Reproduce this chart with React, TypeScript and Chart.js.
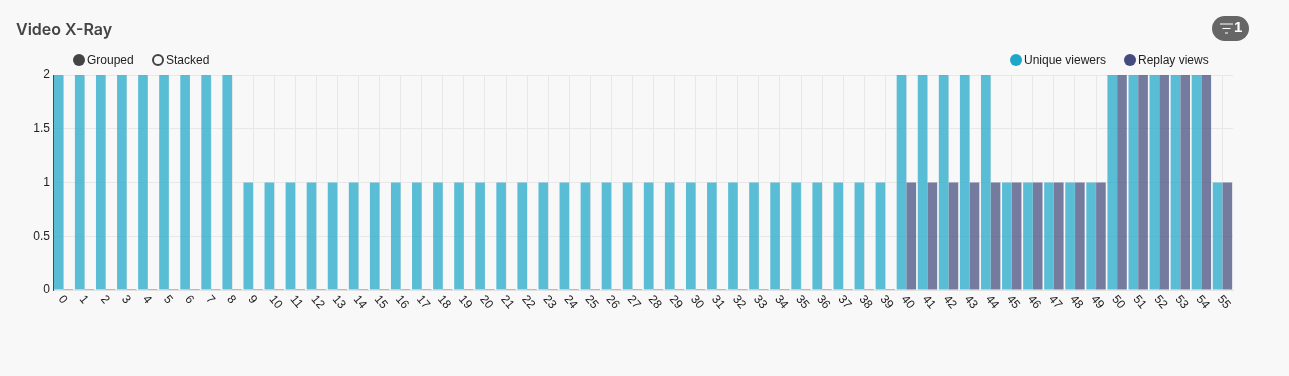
import React, { useEffect, useRef } from "react";
import { Chart, registerables } from "chart.js";

Chart.register(...registerables);

const categories = Array.from({ length: 56 }, (_, i) => String(i));
const uniqueViewers = [
  2, 2, 2, 2, 2, 2, 2, 2, 2,
  1, 1, 1, 1, 1, 1, 1, 1, 1, 1, 1, 1, 1, 1, 1, 1, 1, 1, 1, 1, 1, 1, 1, 1, 1, 1, 1, 1, 1, 1, 1,
  2, 2, 2, 2, 2,
  1, 1, 1, 1, 1,
  2, 2, 2, 2, 2,
  1,
];
const replayViews = [
  0, 0, 0, 0, 0, 0, 0, 0, 0,
  0, 0, 0, 0, 0, 0, 0, 0, 0, 0, 0, 0, 0, 0, 0, 0, 0, 0, 0, 0, 0, 0, 0, 0, 0, 0, 0, 0, 0, 0, 0,
  1, 1, 1, 1, 1,
  1, 1, 1, 1, 1,
  2, 2, 2, 2, 2,
  1,
];
const yTicks = [0, 0.5, 1, 1.5, 2];
const seriesNames = ["Unique viewers", "Replay views"];
const legendColors = ["#1ea7c9", "#444b7e"];
const barColors = ["rgba(30,167,201,0.73)", "rgba(68,75,126,0.73)"];

const sans = "'Liberation Sans', Arial, sans-serif";
const LABEL_ANGLE = (50 * Math.PI) / 180;

// Chart.js only slants tick labels anticlockwise; turn its own label items clockwise.
const clockwiseLabels = {
  id: "clockwiseLabels",
  beforeDraw(chart: any) {
    const scale = chart.scales.x;
    scale.getLabelItems(chart.chartArea).forEach((item: any, i: number) => {
      const tickX = scale.getPixelForTick(i);
      item.options.rotation = LABEL_ANGLE;
      item.options.textAlign = "left";
      item.options.textBaseline = "middle";
      item.options.translation = [tickX - 3, chart.chartArea.bottom + 7];
      item.textOffset = 0;
    });
  },
};

const legendItemStyle = (left: number, color: string): React.CSSProperties => ({
  position: "absolute",
  left,
  top: 54,
  width: 12,
  height: 12,
  borderRadius: 6,
  background: color,
});

export default function App() {
  const ref = useRef<HTMLCanvasElement>(null);

  useEffect(() => {
    document.body.style.margin = "0";
    document.body.style.background = "#f8f8f8";
    const chart = new Chart(ref.current!, {
      type: "bar",
      plugins: [clockwiseLabels],
      data: {
        labels: categories,
        datasets: [
          { label: seriesNames[0], data: uniqueViewers, backgroundColor: barColors[0], minBarLength: 1 },
          { label: seriesNames[1], data: replayViews, backgroundColor: barColors[1], minBarLength: 1 },
        ],
      },
      options: {
        animation: false,
        responsive: false,
        layout: { padding: { left: 0, right: 56, top: 75, bottom: 0 } },
        datasets: { bar: { categoryPercentage: 0.93, barPercentage: 0.98 } },
        plugins: {
          title: { display: false },
          tooltip: { enabled: false },
          legend: { display: false },
        },
        scales: {
          x: {
            offset: true,
            afterFit: (scale: any) => {
              scale.height = 86;
            },
            grid: { offset: false, color: "#e8e8e8", drawTicks: false },
            border: { color: "#e2e2e2" },
            ticks: {
              autoSkip: false,
              maxRotation: 50,
              minRotation: 50,
              padding: 6,
              color: "#222",
              font: { family: sans, size: 12 },
            },
          },
          y: {
            min: 0,
            max: 2,
            afterBuildTicks: (scale: any) => {
              scale.ticks = yTicks.map((value) => ({ value }));
            },
            afterFit: (scale: any) => {
              scale.width = 53;
            },
            grid: { color: "#e8e8e8", drawTicks: false },
            border: { color: "#444" },
            ticks: {
              padding: 3,
              color: "#222",
              font: { family: sans, size: 12 },
              callback: (value: any) => String(value),
            },
          },
        },
      },
    } as any);
    return () => chart.destroy();
  }, []);

  return (
    <div style={{ position: "relative", width: 1289, height: 376, background: "#f8f8f8", overflow: "hidden" }}>
      <canvas ref={ref} width={1289} height={376} style={{ position: "absolute", left: 0, top: 0, display: "block" }} />

      <div style={{ position: "absolute", left: 16, top: 19, font: `600 16px Inter, sans-serif`, color: "#444" }}>
        Video X-Ray
      </div>

      <div
        style={{
          position: "absolute",
          left: 1212,
          top: 16,
          width: 37,
          height: 25,
          borderRadius: 13,
          background: "#666",
          color: "#fff",
        }}
      >
        <svg width="16" height="12" style={{ position: "absolute", left: 8, top: 7 }}>
          <path d="M0 1H13M2.5 5.5H10.5M5 10H8" stroke="#fff" strokeWidth="1.2" fill="none" />
        </svg>
        <span style={{ position: "absolute", left: 22, top: 2, font: `700 15px ${sans}` }}>1</span>
      </div>

      <div style={legendItemStyle(73, "#444")} />
      <div style={{ position: "absolute", left: 87, top: 53, font: `12px/14px ${sans}`, color: "#222" }}>Grouped</div>
      <div style={{ ...legendItemStyle(152, "transparent"), border: "2px solid #444", boxSizing: "border-box" }} />
      <div style={{ position: "absolute", left: 166, top: 53, font: `12px/14px ${sans}`, color: "#222" }}>Stacked</div>

      <div style={legendItemStyle(1010, legendColors[0])} />
      <div style={{ position: "absolute", left: 1024, top: 53, font: `12px/14px ${sans}`, color: "#222" }}>{seriesNames[0]}</div>
      <div style={legendItemStyle(1124, legendColors[1])} />
      <div style={{ position: "absolute", left: 1138, top: 53, font: `12px/14px ${sans}`, color: "#222" }}>{seriesNames[1]}</div>
    </div>
  );
}
